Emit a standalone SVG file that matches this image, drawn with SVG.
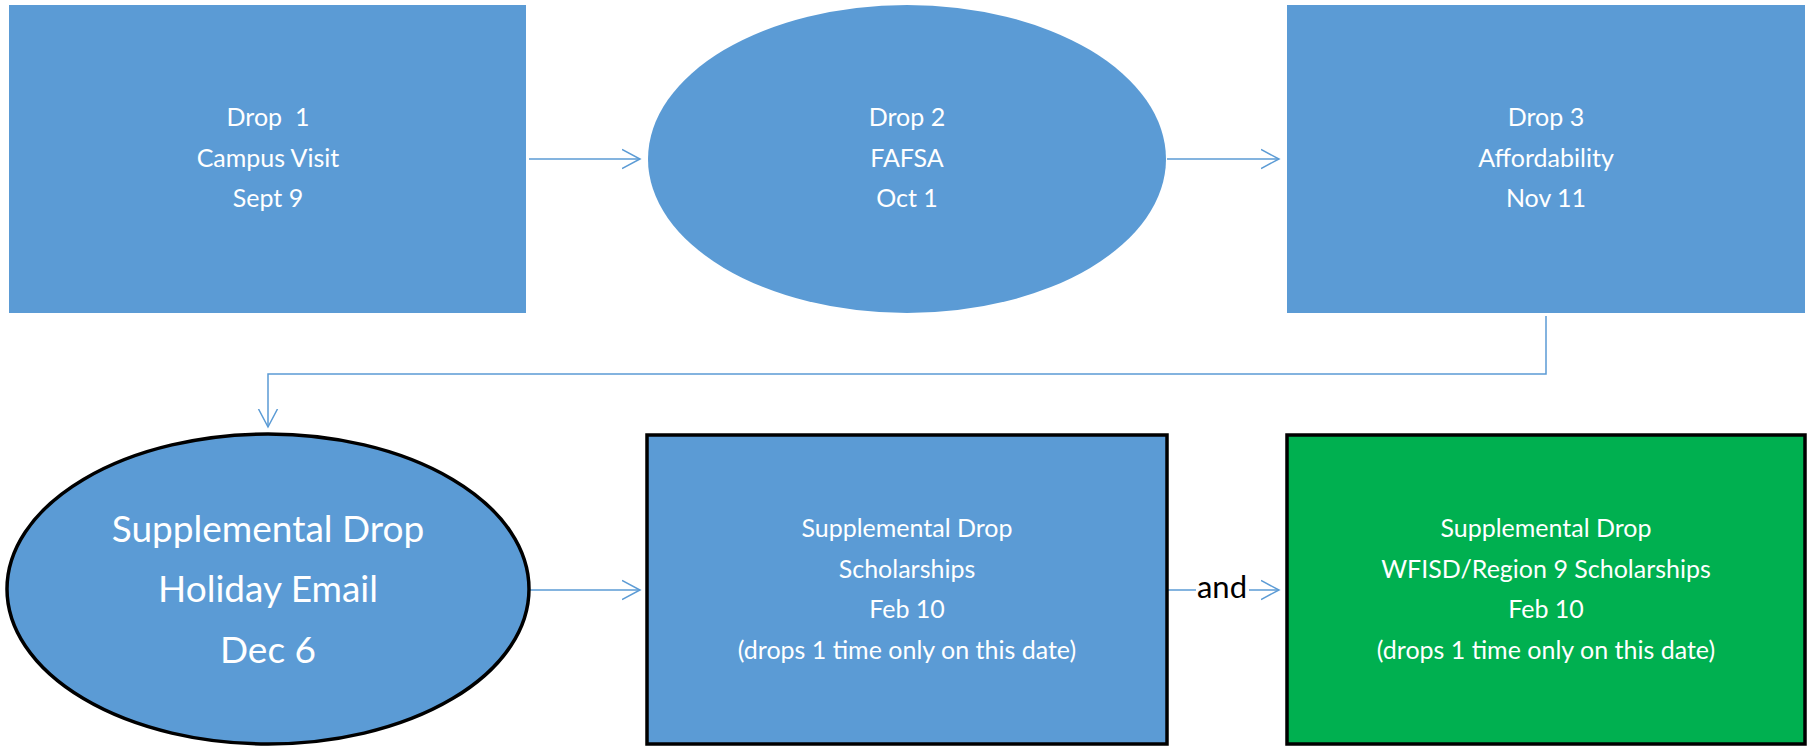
<svg xmlns="http://www.w3.org/2000/svg" width="1811" height="747" viewBox="0 0 1811 747">
<defs>
<style>
.blue{fill:#5B9BD5;}
.green{fill:#00B050;}
.outl{stroke:#000;stroke-width:3.5;}
.t{font-family:Lato,"Liberation Sans",sans-serif;font-size:25px;fill:#fff;text-anchor:middle;}
.big{font-size:37px;}
.conn{fill:none;stroke:#5B9BD5;stroke-width:1.5;}
.and{font-family:Lato,"Liberation Sans",sans-serif;font-size:31px;fill:#000;text-anchor:middle;}
</style>
<marker id="arr" markerWidth="20" markerHeight="22" refX="18" refY="10" orient="auto" markerUnits="userSpaceOnUse" viewBox="0 0 20 20">
<path d="M0,0.5 L18,10 L0,19.5" fill="none" stroke="#5B9BD5" stroke-width="1.5"/>
</marker>
</defs>
<rect width="1811" height="747" fill="#fff"/>
<g id="connectors">
<line class="conn" x1="529" y1="159" x2="640" y2="159" marker-end="url(#arr)"/>
<line class="conn" x1="1167" y1="159" x2="1279" y2="159" marker-end="url(#arr)"/>
<polyline class="conn" points="1546,316 1546,374 268,374 268,427" marker-end="url(#arr)"/>
<line class="conn" x1="530" y1="590" x2="640" y2="590" marker-end="url(#arr)"/>
<line class="conn" x1="1168" y1="590" x2="1196" y2="590"/>
<line class="conn" x1="1249" y1="590" x2="1279" y2="590" marker-end="url(#arr)"/>
<text class="and" x="1222" y="598">and</text>
</g>
<g id="drop1">
<rect class="blue" x="9" y="5" width="517" height="308"/>
<text class="t" x="268" y="126" xml:space="preserve" style="white-space:pre">Drop  1</text>
<text class="t" x="268" y="167">Campus Visit</text>
<text class="t" x="268" y="207">Sept 9</text>
</g>
<g id="drop2">
<ellipse class="blue" cx="907" cy="159" rx="259" ry="154"/>
<text class="t" x="907" y="126">Drop 2</text>
<text class="t" x="907" y="167">FAFSA</text>
<text class="t" x="907" y="207">Oct 1</text>
</g>
<g id="drop3">
<rect class="blue" x="1287" y="5" width="518" height="308"/>
<text class="t" x="1546" y="126">Drop 3</text>
<text class="t" x="1546" y="167">Affordability</text>
<text class="t" x="1546" y="207">Nov 11</text>
</g>
<g id="holiday">
<ellipse class="blue outl" cx="268" cy="589" rx="261" ry="155"/>
<text class="t big" x="268" y="542">Supplemental Drop</text>
<text class="t big" x="268" y="602">Holiday Email</text>
<text class="t big" x="268" y="663">Dec 6</text>
</g>
<g id="scholarships">
<rect class="blue outl" x="647" y="435" width="520" height="309"/>
<text class="t" x="907" y="537">Supplemental Drop</text>
<text class="t" x="907" y="578">Scholarships</text>
<text class="t" x="907" y="618">Feb 10</text>
<text class="t" x="907" y="659">(drops 1 time only on this date)</text>
</g>
<g id="wfisd">
<rect class="green outl" x="1287" y="435" width="518" height="309"/>
<text class="t" x="1546" y="537">Supplemental Drop</text>
<text class="t" x="1546" y="578">WFISD/Region 9 Scholarships</text>
<text class="t" x="1546" y="618">Feb 10</text>
<text class="t" x="1546" y="659">(drops 1 time only on this date)</text>
</g>
</svg>
